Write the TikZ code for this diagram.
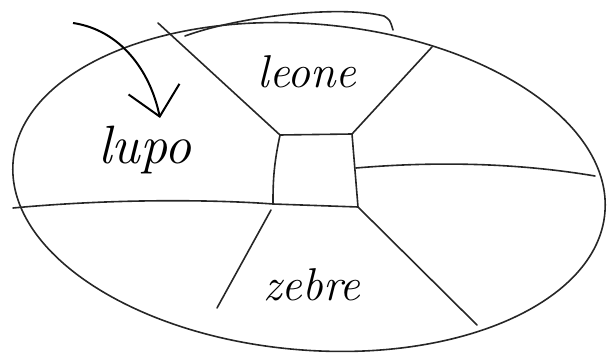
\documentclass[tikz,border=0pt]{standalone}
\usepackage{tikz}
\usetikzlibrary{arrows.meta}
\begin{document}
\begin{tikzpicture}[
  x=1pt,y=-1pt,
  line/.style={draw=black!85,line width=1.6pt,line cap=round},
  lbl/.style={inner sep=0pt,font=\itshape\fontsize{46}{46}\selectfont},
  arr/.style={-{Straight Barb[length=28pt,width=52pt,line width=2pt]},line width=2pt,draw=black}
]
\useasboundingbox (0,0) rectangle (608,355);
\draw[line,rotate around={-5:(309,187)}] (309,187) ellipse [x radius=297,y radius=163];
\draw[line] (185,36) .. controls (240,16) and (340,5) .. (384,16) .. controls (390,20) .. (393,30);
\coordinate (tl) at (280,135);
\coordinate (tr) at (352,134);
\coordinate (br) at (358,207);
\coordinate (bl) at (273,204);
\coordinate (w) at (13,208);
\coordinate (nw) at (158,23);
\coordinate (ne) at (432,47);
\coordinate (e1) at (356,168);
\coordinate (e) at (595,176);
\coordinate (se) at (477,325);
\coordinate (s1) at (271,210);
\coordinate (sw) at (217,308);
\draw[line] (nw) -- (tl) -- (tr) -- (ne);
\draw[line] (tr) -- (br) -- (se);
\draw[line] (tl) to[bend right=6] (bl);
\draw[line] (w) .. controls (120,198) and (220,200) .. (bl) -- (br);
\draw[line] (e1) .. controls (450,160) and (530,165) .. (e);
\draw[line] (s1) -- (sw);
\node[lbl] (leone) at (307,72) {leone};
\node[lbl,font=\itshape\fontsize{54}{54}\selectfont] (lupo) at (145,150) {lupo};
\node[lbl] (zebre) at (312,285) {zebre};
\coordinate (arrowfrom) at (73,23);
\coordinate (arrowto) at (160,118);
\draw[arr] (arrowfrom) .. controls (120,30) and (150,70) .. (arrowto);
\end{tikzpicture}
\end{document}
